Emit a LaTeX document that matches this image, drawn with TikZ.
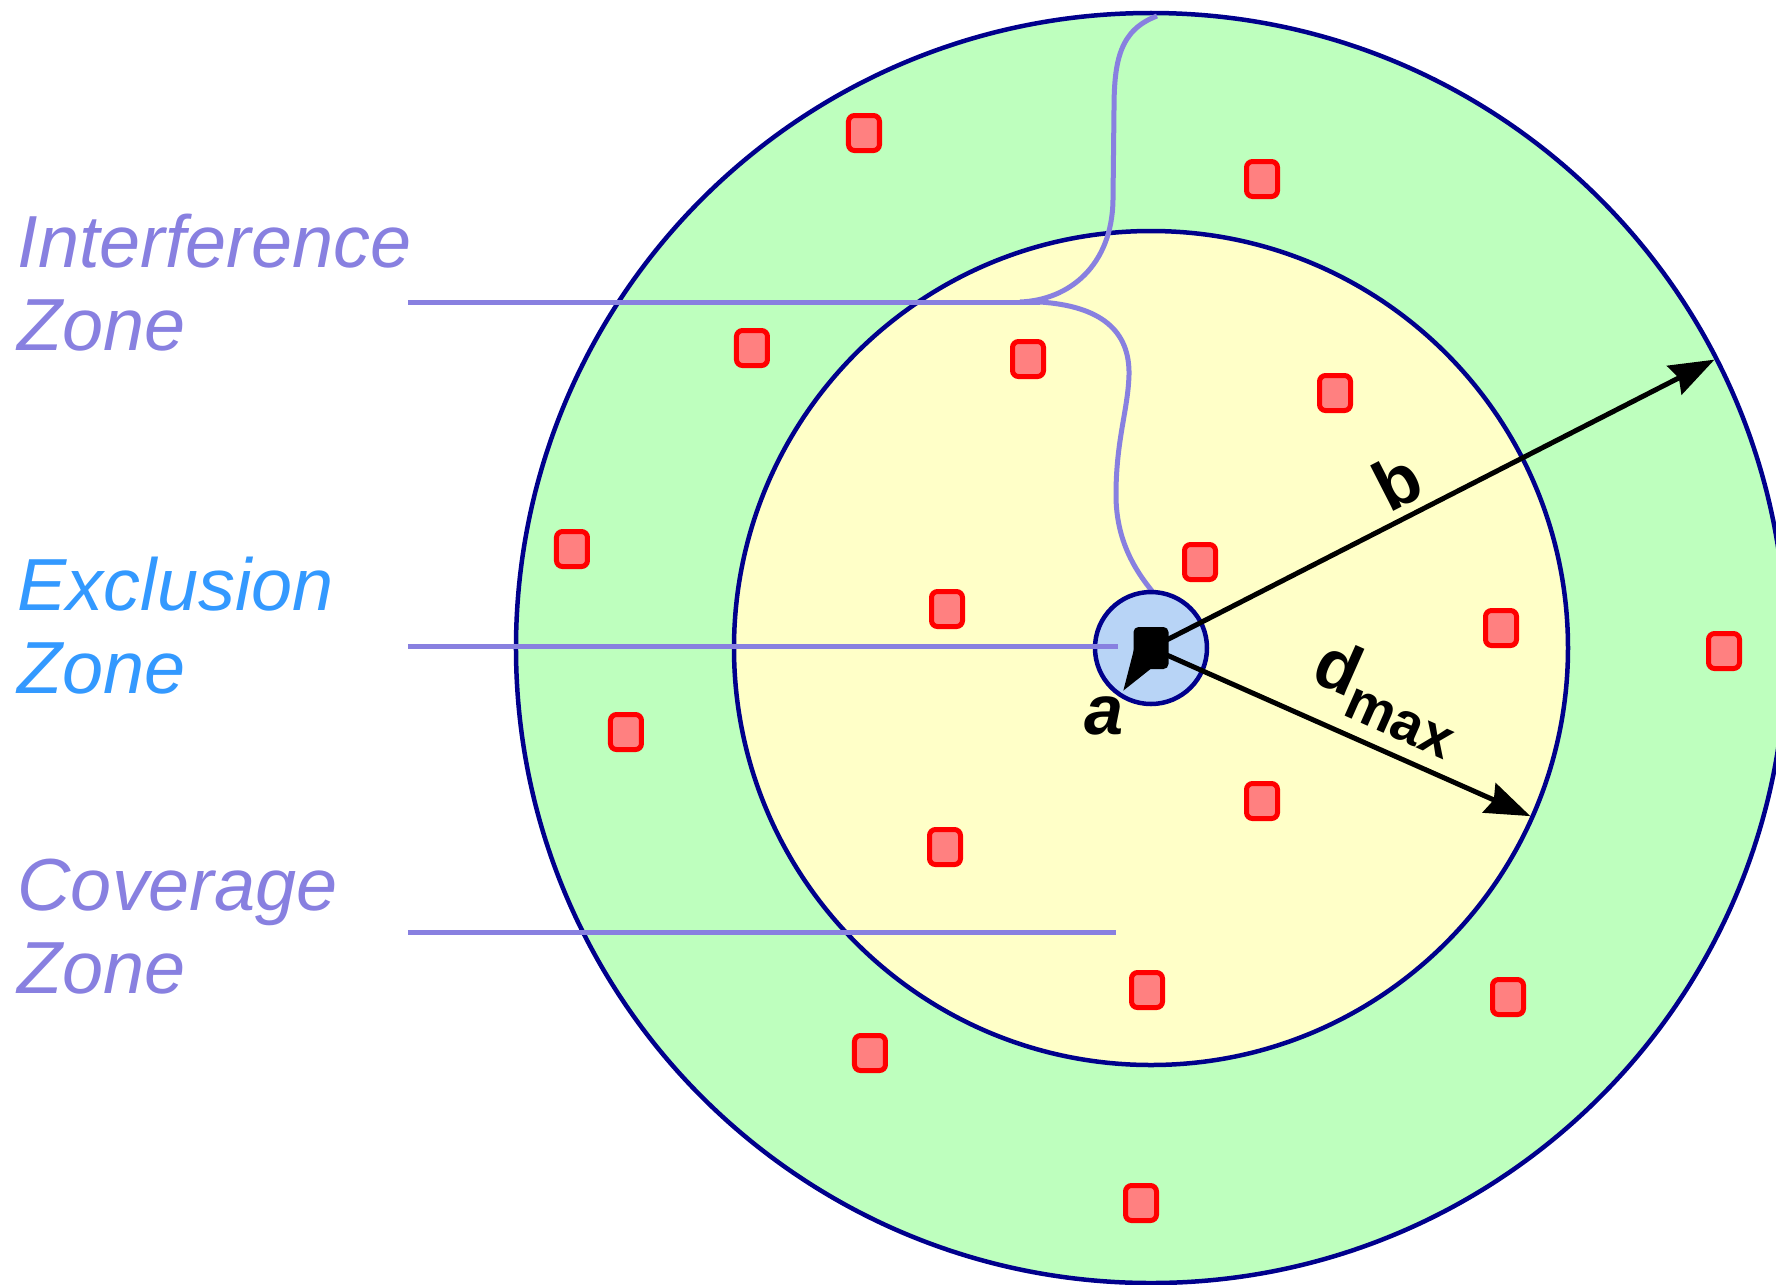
\documentclass[tikz,border=0pt]{standalone}
\usepackage{fontspec}
\setmainfont{Liberation Sans}
\usetikzlibrary{arrows.meta}
\definecolor{zonaazul}{RGB}{0,0,140}
\definecolor{zonaverde}{RGB}{190,255,190}
\definecolor{zonaamarilla}{RGB}{255,255,200}
\definecolor{zonacentro}{RGB}{184,212,246}
\definecolor{lila}{RGB}{136,128,224}
\definecolor{celeste}{RGB}{51,153,255}
\definecolor{rosa}{RGB}{255,128,128}
\tikzset{
  borde/.style={zonaazul, line width=0.045cm},
  nodo/.style={draw=red, fill=rosa, line width=0.05cm, rounded corners=0.06cm,
    minimum width=0.31cm, minimum height=0.35cm, inner sep=0pt},
  radio/.style={line width=0.05cm, -{Stealth[length=0.45cm, width=0.32cm, inset=0.05cm]}},
  guia/.style={lila, line width=0.05cm},
  zona/.style={font=\fontsize{21}{23.6}\selectfont\itshape, align=left,
    anchor=base west, inner sep=0pt},
  rotulo/.style={font=\fontsize{20}{20}\selectfont\bfseries}
}
\begin{document}
\begin{tikzpicture}
    \useasboundingbox (-11.51,-6.36) rectangle (6.25,6.48);
    \clip (-11.51,-6.36) rectangle (6.25,6.48);
    % Zonas de interferencia y de cobertura alrededor del transmisor.
    \draw[borde, fill=zonaverde] (0,0) circle (6.35);
    \draw[borde, fill=zonaamarilla] (0,0) circle (4.17);
    \foreach \x/\y [count=\i] in {-2.87/5.15, 1.11/4.69, -3.99/3.00, -1.23/2.89,
        1.84/2.55, -5.79/0.99, 0.49/0.86, -2.04/0.39, 3.50/0.20, 5.73/-0.03,
        -5.25/-0.84, 1.11/-1.53, -2.06/-1.99, -0.04/-3.42, 3.57/-3.49,
        -2.81/-4.05, -0.10/-5.55}
        \node[nodo] (n\i) at (\x,\y) {};
    % Llave que abarca la zona de interferencia.
    \coordinate (cima) at (0.06,6.32);
    \coordinate (llave1) at (-1.31,3.46);
    \coordinate (llave2) at (-1.11,3.46);
    \coordinate (base) at (0.01,0.57);
    \draw[guia] (cima) .. controls (-0.31,6.18) and (-0.37,5.88) .. (-0.37,5.38)
        -- (-0.38,4.48) .. controls (-0.39,3.83) and (-0.81,3.48) .. (llave1);
    \draw[guia] (llave2) .. controls (-0.51,3.42) and (-0.21,3.18) .. (-0.22,2.73)
        .. controls (-0.23,2.38) and (-0.35,2.08) .. (-0.35,1.53)
        .. controls (-0.35,1.08) and (-0.16,0.78) .. (base);
    \draw[borde, fill=zonacentro] (0,0) circle (0.56);
    % Radios b, d_max y a.
    \coordinate (tx) at (0,0);
    \coordinate (pb) at (27.1:6.33);
    \coordinate (pd) at (-23.9:4.15);
    \coordinate (pa) at (237:0.51);
    \draw[radio] (tx) -- (pb);
    \draw[radio] (tx) -- (pd);
    \draw[line width=0.05cm, -{Stealth[length=0.4cm, width=0.26cm, inset=0.04cm]}] (tx) -- (pa);
    \node[fill=black, rounded corners=0.05cm, minimum width=0.35cm,
        minimum height=0.42cm, inner sep=0pt] (antena) at (tx) {};
    \node[rotulo, rotate=27.1] (lb) at (2.46,1.67) {b};
    \node[rotulo, rotate=-23.9] (ld) at (2.36,-0.49)
        {d\raisebox{-0.5ex}{\fontsize{16}{16}\selectfont max}};
    \node[rotulo, font=\fontsize{20}{20}\selectfont\bfseries\itshape] (la) at (-0.47,-0.68) {a};
    % Rótulos de las zonas.
    \coordinate (gi0) at (-7.43,3.46);
    \coordinate (ge0) at (-7.43,0.02);
    \coordinate (ge1) at (-0.33,0.02);
    \coordinate (gc0) at (-7.43,-2.84);
    \coordinate (gc1) at (-0.35,-2.84);
    \draw[guia] (gi0) -- (llave2);
    \draw[guia] (ge0) -- (ge1);
    \draw[guia] (gc0) -- (gc1);
    \node[zona, text=lila] (interf) at (-11.34,2.98) {Interference\\Zone};
    \node[zona, text=celeste] (exclu) at (-11.34,-0.45) {Exclusion\\Zone};
    \node[zona, text=lila] (cober) at (-11.34,-3.45) {Coverage\\Zone};
\end{tikzpicture}
\end{document}
